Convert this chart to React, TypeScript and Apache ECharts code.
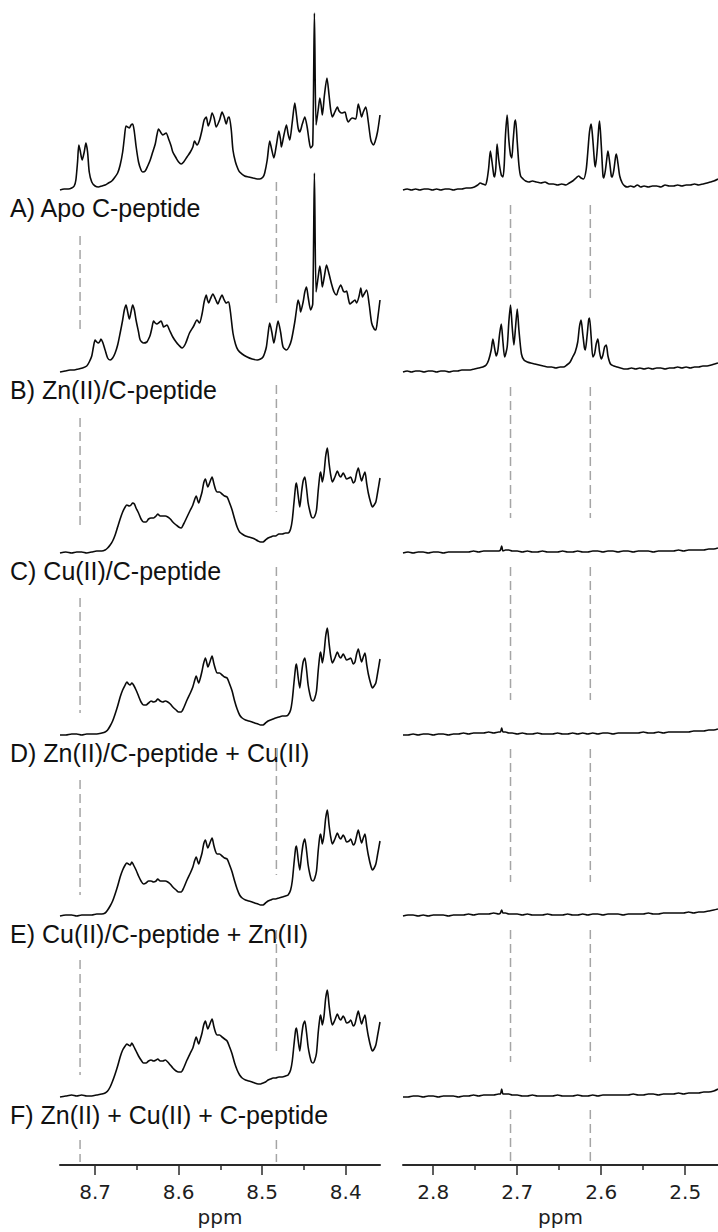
import React, { useEffect, useRef } from "react";
import * as echarts from "echarts";

type Pt = [number, number];

// Sample names, top to bottom
const TRACE_LABELS = [
  "A) Apo C-peptide",
  "B) Zn(II)/C-peptide",
  "C) Cu(II)/C-peptide",
  "D) Zn(II)/C-peptide + Cu(II)",
  "E) Cu(II)/C-peptide + Zn(II)",
  "F) Zn(II) + Cu(II) + C-peptide",
];

// Baseline offset of each stacked trace (intensity units)
const TRACE_OFFSETS = [975, 793, 612, 430, 249, 68];
const Y_MAX = 1165;

// Chemical-shift windows (ppm)
const LEFT_RANGE: [number, number] = [8.359, 8.742];
const RIGHT_RANGE: [number, number] = [2.461, 2.836];
const LEFT_TICKS = [8.4, 8.5, 8.6, 8.7];
const LEFT_MINOR = [8.45, 8.55, 8.65];
const RIGHT_TICKS = [2.5, 2.6, 2.7, 2.8];
const RIGHT_MINOR = [2.55, 2.65, 2.75];

// Dashed guide positions (ppm) and their vertical spans (intensity units)
const LEFT_GUIDES = [8.718, 8.483];
const RIGHT_GUIDES = [2.708, 2.613];
const GUIDE_SPANS_8718: Pt[] = [[929, 832], [747, 635], [567, 452], [385, 270], [205, 90], [25, 3]];
const GUIDE_SPANS_8483: Pt[] = [[983, 857], [780, 653], [598, 473], [417, 290], [235, 110], [25, 3]];
const GUIDE_SPANS_RIGHT: Pt[] = [[960, 867], [778, 647], [598, 465], [416, 283], [235, 103], [55, 3]];

// ---- Amide region, 8.36–8.74 ppm ----
const A_LEFT: Pt[] = [
  [8.742,0],[8.737,1],[8.732,1],[8.728,2],[8.725,4],[8.723,10],[8.721,28],[8.7195,45],[8.718,40],[8.7155,30],[8.713,38],[8.711,47],[8.709,38],[8.707,18],[8.704,8],[8.700,4],[8.696,3],[8.692,4],[8.688,5],[8.684,7],[8.680,9],[8.677,12],[8.673,17],[8.670,25],[8.667,38],[8.665,52],[8.663,64],[8.661,63],[8.659,62],[8.657,65],[8.655,66],[8.653,58],[8.651,44],[8.648,28],[8.645,20],[8.643,18],[8.640,19],[8.637,24],[8.634,30],[8.631,38],[8.628,46],[8.626,55],[8.624,61],[8.621,57],[8.619,55],[8.617,56],[8.615,57],[8.612,51],[8.609,44],[8.607,38],[8.603,32],[8.600,28],[8.597,26],[8.594,28],[8.590,33],[8.586,38],[8.583,43],[8.581,49],[8.578,45],[8.575,50],[8.572,60],[8.5695,70],[8.567,73],[8.5645,64],[8.562,70],[8.560,77],[8.5575,72],[8.555,63],[8.551,70],[8.548,78],[8.5455,73],[8.543,66],[8.541,72],[8.5395,73],[8.537,60],[8.535,40],[8.532,28],[8.529,21],[8.527,18],[8.521,14],[8.516,13],[8.511,12],[8.506,11],[8.503,11],[8.499,13],[8.497,17],[8.494,30],[8.491,49],[8.489,42],[8.486,32],[8.483,45],[8.480,59],[8.478,50],[8.477,43],[8.474,55],[8.471,65],[8.469,56],[8.467,50],[8.464,68],[8.461,87],[8.459,75],[8.457,62],[8.455,58],[8.452,66],[8.449,73],[8.446,62],[8.444,50],[8.442,42],[8.4395,45],[8.4375,177],[8.4355,65],[8.433,80],[8.431,92],[8.4295,85],[8.428,75],[8.4255,95],[8.4225,112],[8.420,95],[8.418,80],[8.416,73],[8.413,78],[8.410,83],[8.408,79],[8.405,77],[8.401,78],[8.399,72],[8.397,68],[8.394,71],[8.392,72],[8.388,71],[8.385,86],[8.383,80],[8.381,73],[8.379,78],[8.376,83],[8.373,68],[8.370,50],[8.367,45],[8.365,48],[8.362,58],[8.359,75],
];

const B_LEFT: Pt[] = [
  [8.742,0],[8.736,1],[8.730,2],[8.725,2],[8.720,3],[8.715,4],[8.710,6],[8.707,10],[8.704,16],[8.702,25],[8.700,32],[8.698,30],[8.696,29],[8.694,31],[8.693,33],[8.691,30],[8.688,22],[8.685,14],[8.682,12],[8.679,14],[8.676,19],[8.673,27],[8.670,39],[8.667,52],[8.665,62],[8.663,67],[8.661,60],[8.659,53],[8.657,60],[8.655,67],[8.653,62],[8.651,52],[8.648,40],[8.646,32],[8.642,29],[8.638,30],[8.636,33],[8.634,37],[8.632,44],[8.630,51],[8.628,49],[8.626,48],[8.624,49],[8.621,51],[8.619,47],[8.618,45],[8.616,46],[8.614,47],[8.611,42],[8.607,35],[8.603,30],[8.600,27],[8.596,24],[8.592,28],[8.587,39],[8.582,46],[8.578,52],[8.575,49],[8.572,58],[8.5695,70],[8.567,77],[8.5655,72],[8.564,69],[8.562,73],[8.559,78],[8.556,73],[8.553,68],[8.551,72],[8.548,77],[8.546,73],[8.543,69],[8.541,70],[8.540,70],[8.538,60],[8.535,39],[8.532,28],[8.529,22],[8.524,18],[8.518,15],[8.512,13],[8.506,12],[8.502,13],[8.499,15],[8.497,19],[8.495,25],[8.493,38],[8.491,49],[8.4885,40],[8.486,29],[8.4835,40],[8.481,51],[8.478,40],[8.475,25],[8.471,22],[8.468,25],[8.465,32],[8.461,50],[8.459,62],[8.457,72],[8.455,66],[8.454,60],[8.451,70],[8.449,80],[8.447,85],[8.445,75],[8.442,62],[8.4395,68],[8.4375,199],[8.4355,80],[8.433,95],[8.431,106],[8.4295,97],[8.428,85],[8.4255,96],[8.423,107],[8.420,98],[8.417,88],[8.414,80],[8.411,77],[8.409,82],[8.406,87],[8.403,81],[8.401,80],[8.399,81],[8.397,74],[8.395,68],[8.392,70],[8.389,72],[8.387,69],[8.384,76],[8.382,84],[8.380,75],[8.378,78],[8.375,82],[8.372,68],[8.369,49],[8.366,43],[8.364,42],[8.362,52],[8.359,72],
];

const C_LEFT: Pt[] = [
  [8.742,0],[8.735,1],[8.728,0],[8.722,1],[8.716,1],[8.710,0],[8.704,1],[8.698,2],[8.692,2],[8.688,3],[8.685,5],[8.682,8],[8.679,12],[8.676,18],[8.673,26],[8.670,34],[8.667,41],[8.664,46],[8.662,48],[8.659,47],[8.657,48],[8.655,50],[8.653,49],[8.651,45],[8.648,40],[8.645,34],[8.642,31],[8.639,31],[8.636,34],[8.633,35],[8.630,35],[8.627,37],[8.625,39],[8.622,37],[8.619,37],[8.616,37],[8.613,36],[8.610,34],[8.607,31],[8.603,28],[8.600,26],[8.597,25],[8.594,29],[8.590,36],[8.586,43],[8.583,48],[8.581,53],[8.579,57],[8.577,52],[8.576,50],[8.574,55],[8.572,61],[8.570,70],[8.568,74],[8.566,68],[8.565,66],[8.563,70],[8.560,76],[8.558,70],[8.556,64],[8.554,61],[8.551,61],[8.548,59],[8.545,57],[8.542,56],[8.539,50],[8.536,43],[8.533,34],[8.530,26],[8.527,21],[8.524,19],[8.520,17],[8.516,16],[8.512,15],[8.509,14],[8.505,12],[8.502,11],[8.499,11],[8.496,13],[8.493,15],[8.490,16],[8.487,17],[8.484,17],[8.480,19],[8.476,19],[8.472,20],[8.469,20],[8.466,24],[8.464,33],[8.462,50],[8.460,67],[8.459,70],[8.457,58],[8.455,46],[8.453,60],[8.451,72],[8.449,76],[8.447,65],[8.445,50],[8.443,42],[8.441,36],[8.439,35],[8.437,37],[8.435,43],[8.433,62],[8.431,78],[8.430,81],[8.428,71],[8.426,80],[8.424,97],[8.422,105],[8.420,90],[8.418,78],[8.416,71],[8.413,76],[8.410,82],[8.408,78],[8.406,76],[8.403,80],[8.401,77],[8.399,74],[8.396,75],[8.394,76],[8.391,70],[8.389,72],[8.387,80],[8.385,85],[8.383,78],[8.381,72],[8.379,77],[8.377,81],[8.375,70],[8.373,60],[8.370,50],[8.368,46],[8.366,48],[8.364,51],[8.362,60],[8.359,75],
];

const D_LEFT: Pt[] = [
  [8.742,0],[8.735,0],[8.728,1],[8.722,1],[8.716,0],[8.710,1],[8.704,1],[8.698,1],[8.692,2],[8.688,3],[8.685,5],[8.682,9],[8.679,14],[8.676,21],[8.673,29],[8.670,38],[8.667,45],[8.664,50],[8.662,53],[8.660,51],[8.658,50],[8.656,52],[8.654,50],[8.651,45],[8.648,39],[8.645,33],[8.642,30],[8.639,30],[8.636,32],[8.633,34],[8.630,33],[8.627,34],[8.625,36],[8.622,34],[8.619,33],[8.616,34],[8.613,33],[8.610,31],[8.607,28],[8.603,25],[8.600,23],[8.597,23],[8.594,27],[8.590,35],[8.586,42],[8.583,48],[8.581,54],[8.579,59],[8.577,54],[8.576,52],[8.574,57],[8.572,64],[8.570,72],[8.568,77],[8.566,71],[8.565,68],[8.563,72],[8.560,79],[8.558,72],[8.556,66],[8.554,62],[8.551,62],[8.548,60],[8.545,58],[8.542,57],[8.539,51],[8.536,44],[8.533,34],[8.530,26],[8.527,20],[8.524,17],[8.520,15],[8.516,14],[8.512,13],[8.509,12],[8.505,11],[8.502,10],[8.499,10],[8.496,12],[8.493,14],[8.490,15],[8.487,16],[8.484,17],[8.480,18],[8.476,19],[8.472,19],[8.469,20],[8.466,25],[8.464,35],[8.462,52],[8.460,68],[8.459,71],[8.457,58],[8.455,47],[8.453,61],[8.451,73],[8.449,77],[8.447,66],[8.445,50],[8.443,41],[8.441,35],[8.439,34],[8.437,37],[8.435,44],[8.433,64],[8.431,80],[8.430,83],[8.428,72],[8.426,82],[8.424,99],[8.422,107],[8.420,92],[8.418,79],[8.416,72],[8.413,77],[8.410,83],[8.408,79],[8.406,77],[8.403,81],[8.401,78],[8.399,75],[8.396,76],[8.394,77],[8.391,71],[8.389,73],[8.387,81],[8.385,86],[8.383,79],[8.381,73],[8.379,78],[8.377,82],[8.375,71],[8.373,61],[8.370,51],[8.368,47],[8.366,49],[8.364,52],[8.362,61],[8.359,76],
];

const E_LEFT: Pt[] = [
  [8.742,0],[8.735,1],[8.728,1],[8.722,0],[8.716,1],[8.710,1],[8.704,1],[8.698,2],[8.692,2],[8.688,3],[8.685,6],[8.682,10],[8.679,15],[8.676,22],[8.673,30],[8.670,39],[8.667,46],[8.664,51],[8.662,53],[8.660,52],[8.658,51],[8.656,54],[8.654,51],[8.651,46],[8.648,40],[8.645,35],[8.642,32],[8.639,33],[8.636,35],[8.633,35],[8.630,34],[8.627,35],[8.625,37],[8.622,35],[8.619,35],[8.616,35],[8.613,34],[8.610,32],[8.607,29],[8.603,26],[8.600,24],[8.597,24],[8.594,28],[8.590,36],[8.586,43],[8.583,49],[8.581,55],[8.579,59],[8.577,54],[8.576,52],[8.574,57],[8.572,63],[8.570,72],[8.568,76],[8.566,70],[8.565,68],[8.563,72],[8.560,78],[8.558,71],[8.556,65],[8.554,62],[8.551,62],[8.548,60],[8.545,58],[8.542,57],[8.539,51],[8.536,44],[8.533,35],[8.530,27],[8.527,21],[8.524,18],[8.520,16],[8.516,15],[8.512,14],[8.509,13],[8.505,12],[8.502,11],[8.499,11],[8.496,13],[8.493,15],[8.490,16],[8.487,17],[8.484,17],[8.480,18],[8.476,19],[8.472,20],[8.469,21],[8.466,26],[8.464,35],[8.462,52],[8.460,68],[8.459,70],[8.457,57],[8.455,46],[8.453,60],[8.451,72],[8.449,77],[8.447,66],[8.445,51],[8.443,42],[8.441,36],[8.439,35],[8.437,38],[8.435,45],[8.433,65],[8.431,80],[8.430,82],[8.428,72],[8.426,81],[8.424,98],[8.422,106],[8.420,91],[8.418,79],[8.416,72],[8.413,77],[8.410,83],[8.408,79],[8.406,77],[8.403,81],[8.401,78],[8.399,74],[8.396,75],[8.394,77],[8.391,71],[8.389,73],[8.387,80],[8.385,86],[8.383,79],[8.381,73],[8.379,78],[8.377,82],[8.375,71],[8.373,61],[8.370,50],[8.368,46],[8.366,48],[8.364,52],[8.362,61],[8.359,75],
];

const F_LEFT: Pt[] = [
  [8.742,0],[8.735,1],[8.728,2],[8.722,1],[8.716,2],[8.710,1],[8.704,1],[8.698,2],[8.692,3],[8.688,4],[8.685,6],[8.682,10],[8.679,16],[8.676,23],[8.673,31],[8.670,40],[8.667,47],[8.664,51],[8.662,53],[8.660,52],[8.658,51],[8.656,54],[8.654,51],[8.651,46],[8.648,41],[8.645,37],[8.642,34],[8.639,34],[8.636,36],[8.633,37],[8.630,36],[8.627,37],[8.625,38],[8.622,36],[8.619,36],[8.616,37],[8.613,35],[8.610,32],[8.607,29],[8.603,26],[8.600,25],[8.597,25],[8.594,29],[8.590,37],[8.586,44],[8.583,49],[8.581,55],[8.579,60],[8.577,55],[8.576,53],[8.574,58],[8.572,64],[8.570,72],[8.568,76],[8.566,70],[8.565,68],[8.563,72],[8.560,78],[8.558,71],[8.556,65],[8.554,62],[8.551,62],[8.548,60],[8.545,58],[8.542,56],[8.539,50],[8.536,43],[8.533,34],[8.530,27],[8.527,22],[8.524,19],[8.520,17],[8.516,16],[8.512,15],[8.509,14],[8.505,13],[8.502,13],[8.499,14],[8.496,15],[8.493,17],[8.490,18],[8.487,19],[8.484,19],[8.480,20],[8.476,20],[8.472,21],[8.469,22],[8.466,27],[8.464,36],[8.462,52],[8.460,67],[8.459,69],[8.457,57],[8.455,46],[8.453,60],[8.451,72],[8.449,76],[8.447,65],[8.445,50],[8.443,41],[8.441,35],[8.439,34],[8.437,37],[8.435,44],[8.433,64],[8.431,79],[8.430,82],[8.428,72],[8.426,81],[8.424,99],[8.422,107],[8.420,92],[8.418,79],[8.416,72],[8.413,77],[8.410,83],[8.408,79],[8.406,77],[8.403,81],[8.401,78],[8.399,74],[8.396,75],[8.394,77],[8.391,71],[8.389,73],[8.387,80],[8.385,86],[8.383,79],[8.381,73],[8.379,78],[8.377,82],[8.375,71],[8.373,61],[8.370,50],[8.368,46],[8.366,48],[8.364,52],[8.362,61],[8.359,75],
];

// ---- Aliphatic region, 2.46–2.84 ppm ----
const A_RIGHT: Pt[] = [
  [2.836,0],[2.831,1],[2.826,0],[2.821,1],[2.816,0],[2.811,1],[2.806,1],[2.801,0],[2.796,1],[2.791,0],[2.786,1],[2.781,1],[2.776,0],[2.771,1],[2.766,1],[2.761,2],[2.756,2],[2.751,3],[2.747,5],[2.744,7],[2.741,6],[2.738,5],[2.736,10],[2.734,22],[2.732,39],[2.730,28],[2.728,15],[2.727,13],[2.7255,22],[2.724,46],[2.722,30],[2.719,15],[2.717,13],[2.7155,25],[2.714,55],[2.712,75],[2.710,50],[2.708,35],[2.7065,32],[2.705,48],[2.703,68],[2.702,70],[2.700,48],[2.698,25],[2.696,14],[2.693,11],[2.690,9],[2.686,8],[2.682,9],[2.677,8],[2.672,7],[2.667,8],[2.662,6],[2.657,6],[2.652,5],[2.647,6],[2.642,5],[2.638,7],[2.634,9],[2.630,12],[2.627,14],[2.624,12],[2.621,11],[2.618,20],[2.616,38],[2.614,58],[2.612,66],[2.610,50],[2.608,28],[2.607,23],[2.605,38],[2.603,62],[2.602,69],[2.600,45],[2.598,15],[2.597,12],[2.595,20],[2.593,34],[2.592,39],[2.590,28],[2.588,14],[2.587,13],[2.585,20],[2.583,33],[2.582,36],[2.580,26],[2.578,14],[2.575,7],[2.572,4],[2.569,3],[2.565,4],[2.561,3],[2.557,5],[2.553,3],[2.549,4],[2.544,3],[2.539,4],[2.534,4],[2.529,3],[2.524,5],[2.519,4],[2.514,4],[2.509,5],[2.504,4],[2.499,5],[2.494,5],[2.489,6],[2.484,5],[2.479,6],[2.474,7],[2.470,8],[2.466,9],[2.461,11],
];

const B_RIGHT: Pt[] = [
  [2.836,0],[2.831,1],[2.826,0],[2.821,1],[2.816,1],[2.811,0],[2.806,1],[2.801,1],[2.796,0],[2.791,1],[2.786,1],[2.781,0],[2.776,1],[2.771,1],[2.766,2],[2.761,2],[2.756,2],[2.751,3],[2.746,4],[2.741,5],[2.737,7],[2.734,12],[2.731,22],[2.729,33],[2.727,24],[2.725,16],[2.723,22],[2.721,38],[2.719,48],[2.717,30],[2.715,15],[2.712,25],[2.710,50],[2.708,67],[2.706,45],[2.704,27],[2.702,45],[2.700,63],[2.698,42],[2.695,18],[2.692,12],[2.688,10],[2.684,9],[2.679,8],[2.674,7],[2.669,6],[2.664,5],[2.659,5],[2.654,4],[2.649,5],[2.645,5],[2.641,7],[2.637,10],[2.634,15],[2.631,20],[2.628,30],[2.626,45],[2.624,52],[2.622,38],[2.620,24],[2.619,22],[2.617,35],[2.615,52],[2.614,54],[2.612,35],[2.610,15],[2.608,18],[2.606,28],[2.604,33],[2.602,20],[2.600,13],[2.598,17],[2.596,25],[2.594,27],[2.592,16],[2.589,8],[2.585,6],[2.581,5],[2.577,4],[2.573,3],[2.569,3],[2.564,4],[2.559,3],[2.554,4],[2.549,3],[2.544,4],[2.539,3],[2.534,4],[2.529,4],[2.524,3],[2.519,4],[2.514,4],[2.509,5],[2.504,4],[2.499,5],[2.494,4],[2.489,5],[2.484,5],[2.479,6],[2.474,6],[2.469,7],[2.465,8],[2.461,9],
];

const C_RIGHT: Pt[] = [
  [2.836,0],[2.830,1],[2.824,0],[2.818,1],[2.812,1],[2.806,0],[2.800,1],[2.794,1],[2.788,0],[2.782,1],[2.776,1],[2.770,1],[2.764,1],[2.758,1],[2.752,2],[2.746,1],[2.740,2],[2.734,2],[2.728,2],[2.722,2],[2.720,3],[2.7185,7],[2.717,2],[2.714,3],[2.710,3],[2.706,2],[2.700,2],[2.694,1],[2.688,2],[2.682,1],[2.676,1],[2.670,2],[2.664,1],[2.658,1],[2.652,1],[2.646,2],[2.640,1],[2.634,1],[2.628,2],[2.622,1],[2.616,1],[2.610,2],[2.604,2],[2.598,1],[2.592,2],[2.586,2],[2.580,1],[2.574,2],[2.568,2],[2.562,1],[2.556,2],[2.550,2],[2.544,2],[2.538,1],[2.532,2],[2.526,2],[2.520,2],[2.514,2],[2.508,3],[2.502,2],[2.496,3],[2.490,3],[2.484,3],[2.478,3],[2.472,4],[2.466,4],[2.461,5],
];

const D_RIGHT: Pt[] = [
  [2.836,0],[2.830,0],[2.824,1],[2.818,0],[2.812,1],[2.806,1],[2.800,0],[2.794,1],[2.788,1],[2.782,0],[2.776,1],[2.770,1],[2.764,2],[2.758,1],[2.752,2],[2.746,2],[2.740,2],[2.734,3],[2.728,2],[2.722,3],[2.720,3],[2.7185,7],[2.717,3],[2.714,3],[2.710,2],[2.706,2],[2.700,1],[2.694,2],[2.688,1],[2.682,1],[2.676,2],[2.670,1],[2.664,1],[2.658,1],[2.652,2],[2.646,1],[2.640,1],[2.634,2],[2.628,1],[2.622,2],[2.616,1],[2.610,2],[2.604,1],[2.598,2],[2.592,2],[2.586,1],[2.580,2],[2.574,2],[2.568,2],[2.562,2],[2.556,2],[2.550,3],[2.544,2],[2.538,2],[2.532,3],[2.526,2],[2.520,3],[2.514,3],[2.508,3],[2.502,3],[2.496,3],[2.490,4],[2.484,4],[2.478,4],[2.472,5],[2.466,5],[2.461,6],
];

const E_RIGHT: Pt[] = [
  [2.836,0],[2.830,1],[2.824,1],[2.818,0],[2.812,1],[2.806,0],[2.800,1],[2.794,1],[2.788,1],[2.782,0],[2.776,1],[2.770,1],[2.764,1],[2.758,2],[2.752,1],[2.746,2],[2.740,2],[2.734,2],[2.728,3],[2.722,2],[2.720,3],[2.7185,6],[2.717,3],[2.714,3],[2.710,2],[2.706,2],[2.700,2],[2.694,1],[2.688,2],[2.682,1],[2.676,1],[2.670,1],[2.664,2],[2.658,1],[2.652,1],[2.646,1],[2.640,2],[2.634,1],[2.628,1],[2.622,2],[2.616,1],[2.610,2],[2.604,2],[2.598,1],[2.592,2],[2.586,2],[2.580,2],[2.574,1],[2.568,2],[2.562,2],[2.556,2],[2.550,2],[2.544,3],[2.538,2],[2.532,2],[2.526,3],[2.520,3],[2.514,3],[2.508,3],[2.502,3],[2.496,4],[2.490,3],[2.484,4],[2.478,4],[2.472,5],[2.466,6],[2.461,7],
];

const F_RIGHT: Pt[] = [
  [2.836,0],[2.830,0],[2.824,1],[2.818,1],[2.812,0],[2.806,1],[2.800,1],[2.794,0],[2.788,1],[2.782,1],[2.776,1],[2.770,0],[2.764,1],[2.758,1],[2.752,2],[2.746,1],[2.740,2],[2.734,2],[2.728,2],[2.722,3],[2.720,3],[2.7185,8],[2.717,3],[2.714,3],[2.710,3],[2.706,2],[2.700,2],[2.694,1],[2.688,1],[2.682,2],[2.676,1],[2.670,1],[2.664,1],[2.658,1],[2.652,2],[2.646,1],[2.640,1],[2.634,1],[2.628,2],[2.622,1],[2.616,1],[2.610,2],[2.604,1],[2.598,2],[2.592,2],[2.586,2],[2.580,2],[2.574,2],[2.568,2],[2.562,3],[2.556,2],[2.550,2],[2.544,3],[2.538,3],[2.532,2],[2.526,3],[2.520,3],[2.514,3],[2.508,4],[2.502,3],[2.496,4],[2.490,4],[2.484,4],[2.478,5],[2.472,5],[2.466,6],[2.461,8],
];

const LEFT_TRACES = [A_LEFT, B_LEFT, C_LEFT, D_LEFT, E_LEFT, F_LEFT];
const RIGHT_TRACES = [A_RIGHT, B_RIGHT, C_RIGHT, D_RIGHT, E_RIGHT, F_RIGHT];

const TICK_FONT = "DejaVu Sans";
const LABEL_FONT = "Liberation Sans, Arial, sans-serif";
const AXIS_COLOR = "#2a2a2a";

function bottomAxis(grid: number, range: [number, number], ticks: number[], minor: boolean): any {
  return {
    gridIndex: grid,
    type: "value",
    position: "bottom",
    inverse: true,
    min: range[0],
    max: range[1],
    splitLine: { show: false },
    axisLine: { show: !minor, onZero: false, lineStyle: { color: AXIS_COLOR, width: 2 } },
    axisTick: {
      show: true,
      inside: false,
      length: minor ? 5 : 10,
      customValues: ticks,
      lineStyle: { color: AXIS_COLOR, width: 1.5 },
    },
    axisLabel: minor
      ? { show: false }
      : {
          show: true,
          customValues: ticks,
          formatter: (v: number) => v.toFixed(1),
          fontFamily: TICK_FONT,
          fontSize: 20,
          color: "#1e1e1e",
          margin: 17,
        },
    name: minor ? "" : "ppm",
    nameLocation: "middle",
    nameGap: 42,
    nameTextStyle: { fontFamily: TICK_FONT, fontSize: 20, color: "#1e1e1e" },
  };
}

function traceSeries(data: Pt[], offset: number, axis: number): any {
  return {
    type: "line",
    xAxisIndex: axis,
    yAxisIndex: axis === 0 ? 0 : 1,
    data: data.map(([ppm, v]) => [ppm, v + offset]),
    showSymbol: false,
    symbol: "none",
    smooth: 0.25,
    clip: false,
    silent: true,
    lineStyle: { color: "#0a0a0a", width: 1.6 },
  };
}

function guideSeries(ppm: number, spans: Pt[], axis: number): any[] {
  return spans.map(([y0, y1]) => ({
    type: "line",
    xAxisIndex: axis,
    yAxisIndex: axis === 0 ? 0 : 1,
    data: [[ppm, y0], [ppm, y1]],
    showSymbol: false,
    symbol: "none",
    silent: true,
    clip: false,
    lineStyle: { color: "#a5a5a5", width: 1.5, type: [9, 5] },
  }));
}

export default function App() {
  const ref = useRef<HTMLDivElement>(null);

  useEffect(() => {
    if (!ref.current) return;
    const chart = echarts.init(ref.current, undefined, { renderer: "svg" });

    const series: any[] = [];
    LEFT_GUIDES.forEach((ppm, i) => {
      series.push(...guideSeries(ppm, i === 0 ? GUIDE_SPANS_8718 : GUIDE_SPANS_8483, 0));
    });
    RIGHT_GUIDES.forEach((ppm) => {
      series.push(...guideSeries(ppm, GUIDE_SPANS_RIGHT, 2));
    });
    LEFT_TRACES.forEach((d, i) => series.push(traceSeries(d, TRACE_OFFSETS[i], 0)));
    RIGHT_TRACES.forEach((d, i) => series.push(traceSeries(d, TRACE_OFFSETS[i], 2)));

    chart.setOption({
      animation: false,
      backgroundColor: "#ffffff",
      grid: [
        { left: 60, width: 320, top: 0, height: Y_MAX },
        { left: 403, width: 315, top: 0, height: Y_MAX },
      ],
      xAxis: [
        bottomAxis(0, LEFT_RANGE, LEFT_TICKS, false),
        bottomAxis(0, LEFT_RANGE, LEFT_MINOR, true),
        bottomAxis(1, RIGHT_RANGE, RIGHT_TICKS, false),
        bottomAxis(1, RIGHT_RANGE, RIGHT_MINOR, true),
      ],
      yAxis: [
        { gridIndex: 0, type: "value", min: 0, max: Y_MAX, show: false },
        { gridIndex: 1, type: "value", min: 0, max: Y_MAX, show: false },
      ],
      series,
    });

    // Sample labels sit just below each left-hand trace baseline
    const labels = TRACE_LABELS.map((text, i) => {
      const p = chart.convertToPixel({ gridIndex: 0 }, [LEFT_RANGE[1], TRACE_OFFSETS[i]]) as number[];
      return {
        type: "text",
        x: 10,
        y: p[1] + 18,
        silent: true,
        style: {
          text,
          fill: "#111",
          fontFamily: LABEL_FONT,
          fontSize: 25,
          align: "left",
          verticalAlign: "middle",
        },
      };
    });
    chart.setOption({ graphic: labels });

    return () => chart.dispose();
  }, []);

  return (
    <div
      ref={ref}
      style={{ position: "absolute", left: 0, top: 0, width: 718, height: 1232, background: "#fff" }}
    />
  );
}
